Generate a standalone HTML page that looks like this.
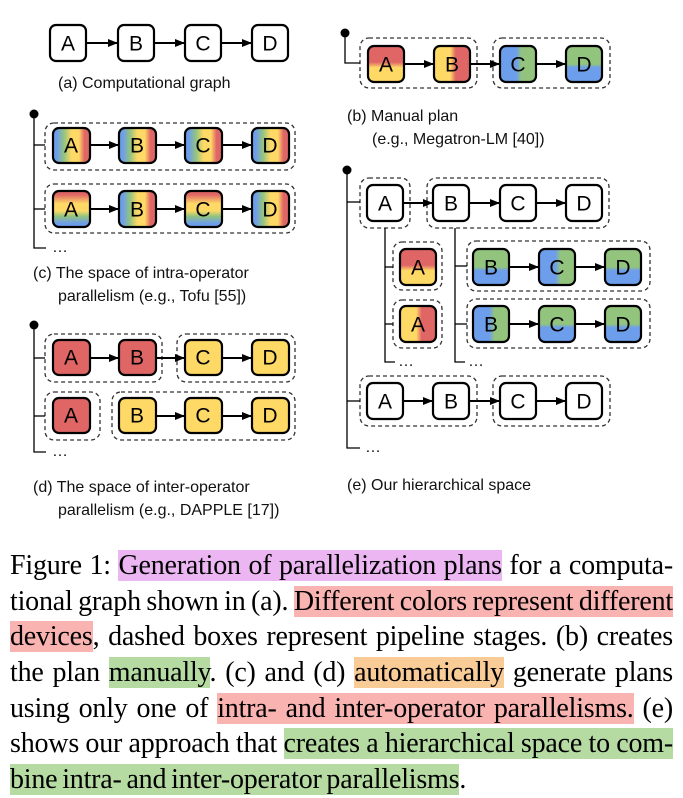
<!DOCTYPE html>
<html><head><meta charset="utf-8"><style>
body{margin:0;background:#fff;width:683px;height:792px;overflow:hidden;position:relative}
svg{position:absolute;left:0;top:0}
.cap{font-family:"Liberation Sans",sans-serif;font-size:16px;fill:#111}
.n{font-family:"Liberation Sans",sans-serif;font-size:21px;fill:#000;text-anchor:middle;dominant-baseline:central}
.txt{position:absolute;left:10px;width:663px;font-family:"Liberation Serif",serif;font-size:28px;line-height:35.7px;top:548px;color:#000;letter-spacing:-0.2px;word-spacing:-2px}
.l{text-align:justify;text-align-last:justify;white-space:nowrap;height:35.7px}
.l.last{text-align-last:left}
.p{background:#ecb6f3}.r{background:#f9b3b1}.g{background:#b5dba3}.o{background:#f9cc97}
</style></head><body>
<svg width="683" height="540" viewBox="0 0 683 540">
<defs>
<marker id="ar" markerWidth="10" markerHeight="8" refX="9" refY="4" orient="auto" markerUnits="userSpaceOnUse"><path d="M0,0L10,4L0,8z" fill="#000"/></marker>
<linearGradient id="h4" x1="0" y1="0" x2="1" y2="0"><stop offset="0.1" stop-color="#6d9eeb"/><stop offset="0.3" stop-color="#93c47d"/><stop offset="0.5" stop-color="#ffd966"/><stop offset="0.7" stop-color="#ffd966"/><stop offset="0.85" stop-color="#e06666"/></linearGradient>
<linearGradient id="v4" x1="0" y1="0" x2="0" y2="1"><stop offset="0.1" stop-color="#e06666"/><stop offset="0.35" stop-color="#ffd966"/><stop offset="0.55" stop-color="#ffd966"/><stop offset="0.7" stop-color="#93c47d"/><stop offset="0.9" stop-color="#6d9eeb"/></linearGradient>
<linearGradient id="ryv" x1="0" y1="0" x2="0" y2="1"><stop offset="0.45" stop-color="#e06666"/><stop offset="0.6" stop-color="#ffd966"/></linearGradient>
<linearGradient id="yrh" x1="0" y1="0" x2="1" y2="0"><stop offset="0.45" stop-color="#ffd966"/><stop offset="0.6" stop-color="#e06666"/></linearGradient>
<linearGradient id="bgh" x1="0" y1="0" x2="1" y2="0"><stop offset="0.45" stop-color="#6d9eeb"/><stop offset="0.6" stop-color="#93c47d"/></linearGradient>
<linearGradient id="gbv" x1="0" y1="0" x2="0" y2="1"><stop offset="0.5" stop-color="#93c47d"/><stop offset="0.6" stop-color="#6d9eeb"/></linearGradient>
</defs>
<g fill="none" stroke="#000">
<g stroke-width="2"><line x1="86" y1="43" x2="117" y2="43" marker-end="url(#ar)"/><line x1="154" y1="43" x2="184" y2="43" marker-end="url(#ar)"/><line x1="221" y1="43" x2="251" y2="43" marker-end="url(#ar)"/></g>
<g stroke="#333" stroke-width="1.3" stroke-dasharray="4,3">
<rect x="360" y="38" width="117" height="50" rx="9"/><rect x="493" y="38" width="117" height="50" rx="9"/>
<rect x="45" y="123" width="250" height="47" rx="9"/><rect x="45" y="184" width="250" height="49" rx="9"/>
<rect x="45" y="334" width="117" height="48" rx="9"/><rect x="177" y="334" width="118" height="48" rx="9"/>
<rect x="45" y="392" width="55" height="48" rx="9"/><rect x="112" y="392" width="183" height="48" rx="9"/>
<rect x="360" y="178" width="50" height="50" rx="9"/><rect x="427" y="178" width="182" height="50" rx="9"/>
<rect x="393" y="242" width="49" height="48" rx="9"/><rect x="393" y="300" width="49" height="48" rx="9"/>
<rect x="467" y="241" width="183" height="50" rx="9"/><rect x="467" y="299" width="183" height="49" rx="9"/>
<rect x="360" y="376" width="117" height="50" rx="9"/><rect x="493" y="376" width="117" height="50" rx="9"/>
</g>
<g stroke-width="1.3">
<polyline points="345,33 345,63 360,63"/>
<polyline points="34,114 34,248 46,248"/><line x1="34" y1="145" x2="45" y2="145"/><line x1="34" y1="209" x2="45" y2="209"/>
<polyline points="34,325 34,452 46,452"/><line x1="34" y1="358" x2="45" y2="358"/><line x1="34" y1="416" x2="45" y2="416"/>
<polyline points="347,170 347,448 360,448"/><line x1="347" y1="202" x2="360" y2="202"/><line x1="347" y1="401" x2="360" y2="401"/>
<polyline points="385,228 385,362 395,362"/><line x1="385" y1="267" x2="393" y2="267"/><line x1="385" y1="324" x2="393" y2="324"/>
<polyline points="455,228 455,362 465,362"/><line x1="455" y1="266" x2="467" y2="266"/><line x1="455" y1="324" x2="467" y2="324"/>
</g>
<g stroke-width="2">
<line x1="404" y1="64" x2="433" y2="64" marker-end="url(#ar)"/><line x1="470" y1="64" x2="499" y2="64" marker-end="url(#ar)"/><line x1="536" y1="64" x2="565" y2="64" marker-end="url(#ar)"/>
<line x1="90" y1="145" x2="118" y2="145" marker-end="url(#ar)"/><line x1="156" y1="145" x2="184" y2="145" marker-end="url(#ar)"/><line x1="222" y1="145" x2="251" y2="145" marker-end="url(#ar)"/>
<line x1="90" y1="209" x2="118" y2="209" marker-end="url(#ar)"/><line x1="156" y1="209" x2="184" y2="209" marker-end="url(#ar)"/><line x1="222" y1="209" x2="251" y2="209" marker-end="url(#ar)"/>
<line x1="90" y1="358" x2="118" y2="358" marker-end="url(#ar)"/><line x1="156" y1="358" x2="184" y2="358" marker-end="url(#ar)"/><line x1="222" y1="358" x2="251" y2="358" marker-end="url(#ar)"/>
<line x1="156" y1="416" x2="184" y2="416" marker-end="url(#ar)"/><line x1="222" y1="416" x2="251" y2="416" marker-end="url(#ar)"/>
<line x1="403" y1="203" x2="432" y2="203" marker-end="url(#ar)"/><line x1="469" y1="203" x2="499" y2="203" marker-end="url(#ar)"/><line x1="536" y1="203" x2="565" y2="203" marker-end="url(#ar)"/>
<line x1="509" y1="267" x2="538" y2="267" marker-end="url(#ar)"/><line x1="575" y1="267" x2="604" y2="267" marker-end="url(#ar)"/>
<line x1="509" y1="324" x2="538" y2="324" marker-end="url(#ar)"/><line x1="575" y1="324" x2="604" y2="324" marker-end="url(#ar)"/>
<line x1="403" y1="401" x2="432" y2="401" marker-end="url(#ar)"/><line x1="469" y1="401" x2="499" y2="401" marker-end="url(#ar)"/><line x1="536" y1="401" x2="565" y2="401" marker-end="url(#ar)"/>
</g>
<g stroke-width="2.2">
<rect x="50" y="25" width="36" height="36" rx="6" fill="#fff"/><rect x="118" y="25" width="36" height="36" rx="6" fill="#fff"/><rect x="185" y="25" width="36" height="36" rx="6" fill="#fff"/><rect x="252" y="25" width="36" height="36" rx="6" fill="#fff"/>
<rect x="368" y="46" width="36" height="36" rx="6" fill="url(#ryv)"/><rect x="434" y="46" width="36" height="36" rx="6" fill="url(#yrh)"/><rect x="500" y="46" width="36" height="36" rx="6" fill="url(#bgh)"/><rect x="566" y="46" width="36" height="36" rx="6" fill="url(#gbv)"/>
<rect x="53" y="128" width="37" height="35" rx="6" fill="url(#h4)"/><rect x="119" y="128" width="37" height="35" rx="6" fill="url(#h4)"/><rect x="185" y="128" width="37" height="35" rx="6" fill="url(#h4)"/><rect x="252" y="128" width="37" height="35" rx="6" fill="url(#h4)"/>
<rect x="53" y="191" width="37" height="36" rx="6" fill="url(#v4)"/><rect x="119" y="191" width="37" height="36" rx="6" fill="url(#h4)"/><rect x="185" y="191" width="37" height="36" rx="6" fill="url(#v4)"/><rect x="252" y="191" width="37" height="36" rx="6" fill="url(#h4)"/>
<rect x="53" y="340" width="37" height="35" rx="6" fill="#e06666"/><rect x="119" y="340" width="37" height="35" rx="6" fill="#e06666"/><rect x="185" y="340" width="37" height="35" rx="6" fill="#ffd966"/><rect x="252" y="340" width="37" height="35" rx="6" fill="#ffd966"/>
<rect x="53" y="398" width="37" height="35" rx="6" fill="#e06666"/><rect x="119" y="398" width="37" height="35" rx="6" fill="#ffd966"/><rect x="185" y="398" width="37" height="35" rx="6" fill="#ffd966"/><rect x="252" y="398" width="37" height="35" rx="6" fill="#ffd966"/>
<rect x="367" y="185" width="36" height="36" rx="6" fill="#fff"/><rect x="433" y="185" width="36" height="36" rx="6" fill="#fff"/><rect x="500" y="185" width="36" height="36" rx="6" fill="#fff"/><rect x="566" y="185" width="36" height="36" rx="6" fill="#fff"/>
<rect x="400" y="249" width="36" height="36" rx="6" fill="url(#ryv)"/><rect x="400" y="306" width="36" height="36" rx="6" fill="url(#yrh)"/>
<rect x="473" y="249" width="36" height="36" rx="6" fill="url(#gbv)"/><rect x="539" y="249" width="36" height="36" rx="6" fill="url(#bgh)"/><rect x="605" y="249" width="36" height="36" rx="6" fill="url(#gbv)"/>
<rect x="473" y="306" width="36" height="36" rx="6" fill="url(#bgh)"/><rect x="539" y="306" width="36" height="36" rx="6" fill="url(#gbv)"/><rect x="605" y="306" width="36" height="36" rx="6" fill="url(#gbv)"/>
<rect x="367" y="383" width="36" height="36" rx="6" fill="#fff"/><rect x="433" y="383" width="36" height="36" rx="6" fill="#fff"/><rect x="500" y="383" width="36" height="36" rx="6" fill="#fff"/><rect x="566" y="383" width="36" height="36" rx="6" fill="#fff"/>
</g>
</g>
<circle cx="345" cy="33" r="4.5"/><circle cx="34" cy="114" r="4.5"/><circle cx="34" cy="325" r="4.5"/><circle cx="347" cy="170" r="4.5"/>
<g>
<text class="n" x="68" y="44">A</text><text class="n" x="136" y="44">B</text><text class="n" x="203" y="44">C</text><text class="n" x="270" y="44">D</text>
<text class="n" x="386" y="65">A</text><text class="n" x="452" y="65">B</text><text class="n" x="518" y="65">C</text><text class="n" x="584" y="65">D</text>
<text class="n" x="71" y="146">A</text><text class="n" x="137" y="146">B</text><text class="n" x="203" y="146">C</text><text class="n" x="270" y="146">D</text>
<text class="n" x="71" y="210">A</text><text class="n" x="137" y="210">B</text><text class="n" x="203" y="210">C</text><text class="n" x="270" y="210">D</text>
<text class="n" x="71" y="358">A</text><text class="n" x="137" y="358">B</text><text class="n" x="203" y="358">C</text><text class="n" x="270" y="358">D</text>
<text class="n" x="71" y="416">A</text><text class="n" x="137" y="416">B</text><text class="n" x="203" y="416">C</text><text class="n" x="270" y="416">D</text>
<text class="n" x="385" y="204">A</text><text class="n" x="451" y="204">B</text><text class="n" x="518" y="204">C</text><text class="n" x="584" y="204">D</text>
<text class="n" x="418" y="268">A</text><text class="n" x="418" y="325">A</text>
<text class="n" x="491" y="268">B</text><text class="n" x="557" y="268">C</text><text class="n" x="623" y="268">D</text>
<text class="n" x="491" y="325">B</text><text class="n" x="557" y="325">C</text><text class="n" x="623" y="325">D</text>
<text class="n" x="385" y="402">A</text><text class="n" x="451" y="402">B</text><text class="n" x="518" y="402">C</text><text class="n" x="584" y="402">D</text>
</g>
<g class="cap">
<text x="58" y="88">(a) Computational graph</text>
<text x="347" y="121">(b) Manual plan</text><text x="372" y="144">(e.g., Megatron-LM [40])</text>
<text x="52" y="252">…</text>
<text x="33" y="278">(c) The space of intra-operator</text><text x="58" y="301">parallelism (e.g., Tofu [55])</text>
<text x="52" y="456">…</text>
<text x="33" y="492">(d) The space of inter-operator</text><text x="58" y="515">parallelism (e.g., DAPPLE [17])</text>
<text x="398" y="366">…</text><text x="468" y="366">…</text><text x="365" y="452">…</text>
<text x="347" y="490">(e) Our hierarchical space</text>
</g>
</svg>
<div class="txt">
<div class="l">Figure 1: <span class="p">Generation of parallelization plans</span> for a computa-</div>
<div class="l">tional graph shown in (a). <span class="r">Different colors represent different</span></div>
<div class="l"><span class="r">devices</span>, dashed boxes represent pipeline stages. (b) creates</div>
<div class="l">the plan <span class="g">manually</span>. (c) and (d) <span class="o">automatically</span> generate plans</div>
<div class="l">using only one of <span class="r">intra- and inter-operator parallelisms.</span> (e)</div>
<div class="l">shows our approach that <span class="g">creates a hierarchical space to com-</span></div>
<div class="l last"><span class="g">bine intra- and inter-operator parallelisms</span>.</div>
</div>
</body></html>
